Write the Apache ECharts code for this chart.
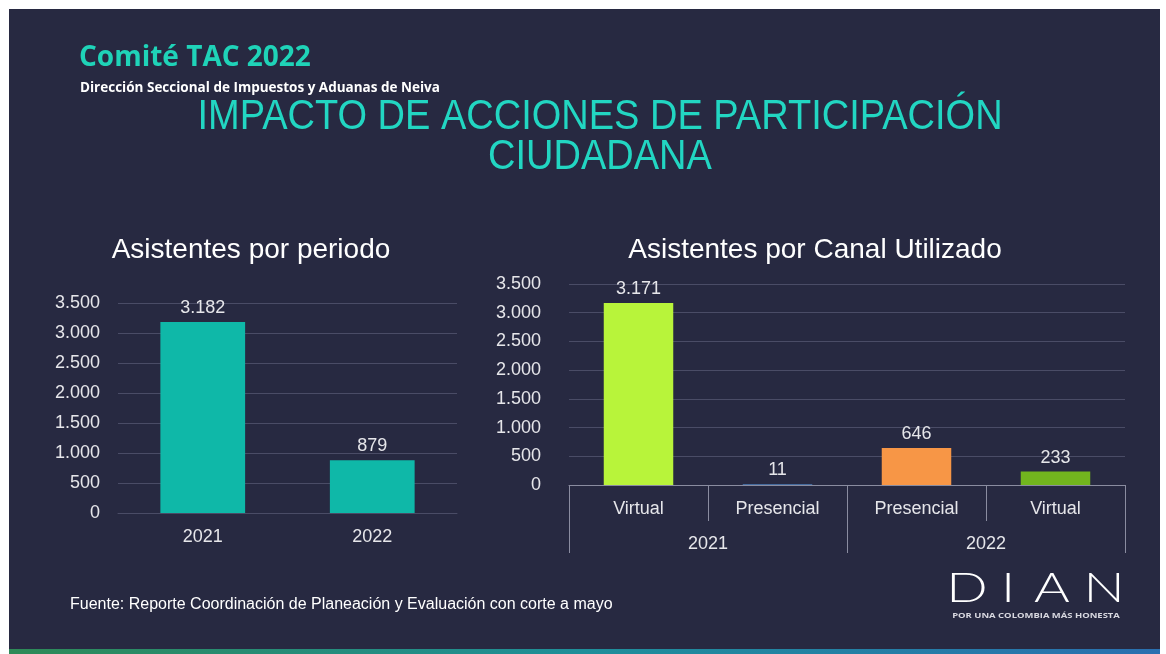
<!DOCTYPE html>
<html>
<head>
<meta charset="utf-8">
<script src="https://cdn.jsdelivr.net/npm/echarts@6/dist/echarts.min.js"></script>
<style>
  html, body { margin: 0; padding: 0; background: #ffffff; }
  #main { width: 1166px; height: 654px; }
</style>
</head>
<body>
<div id="main"></div>
<script>
// datos del gráfico
const periodCats = ['2021', '2022'];
const periodVals = [3182, 879];

const canalCats = ['Virtual', 'Presencial', 'Presencial', 'Virtual'];
const canalYears = ['2021', '2022'];
const canalVals = [3171, 11, 646, 233];
const canalColors = ['#b8f43a', '#4f81bd', '#f79646', '#72b51e'];

const yTicks = { min: 0, max: 3500, interval: 500 };

const textColor = '#e6e6ea';
const gridColor = '#4a4c66';
const font = '"Liberation Sans", Arial, sans-serif';

// 3182 -> 3.182
const fmt = v => String(v).replace(/\B(?=(\d{3})+(?!\d))/g, '.');

const myChart = echarts.init(document.getElementById('main'));

const valueAxis = (gridIndex, margin) => ({
  type: 'value',
  gridIndex: gridIndex,
  min: yTicks.min,
  max: yTicks.max,
  interval: yTicks.interval,
  axisLine: { show: false },
  axisTick: { show: false },
  axisLabel: { color: textColor, fontSize: 18, fontFamily: font, margin: margin, formatter: fmt },
  splitLine: { lineStyle: { color: gridColor, width: 1 } }
});

// letras del logo DIAN
const logoLetters = [
  { ch: 'D', x: 967 }, { ch: 'I', x: 1008 }, { ch: 'A', x: 1052 }, { ch: 'N', x: 1104 }
];

const option = {
  backgroundColor: '#ffffff',
  animation: false,
  graphic: [
    // fondo de la diapositiva
    { type: 'rect', shape: { x: 9, y: 9, width: 1151, height: 641 }, style: { fill: '#272941' }, z: -10 },
    {
      type: 'rect', shape: { x: 9, y: 649, width: 1151, height: 5 }, z: -9,
      style: {
        fill: new echarts.graphic.LinearGradient(0, 0, 1, 0, [
          { offset: 0, color: '#2e8a57' }, { offset: 0.5, color: '#1f8f9a' }, { offset: 1, color: '#2a6fb0' }
        ])
      }
    },
    { type: 'text', x: 79, y: 44, style: { text: 'Comité TAC 2022', fill: '#1fd3b8', font: 'bold 28px "Open Sans", sans-serif' } },
    { type: 'text', x: 80, y: 81, style: { text: 'Dirección Seccional de Impuestos y Aduanas de Neiva', fill: '#ffffff', font: 'bold 13.5px "Open Sans", sans-serif' } },
    { type: 'text', x: 600, y: 117, scaleY: 1.12, style: { text: 'IMPACTO DE ACCIONES DE PARTICIPACIÓN', fill: '#22d6c2', font: '38px ' + font, align: 'center', verticalAlign: 'middle' } },
    { type: 'text', x: 600, y: 157, scaleY: 1.12, style: { text: 'CIUDADANA', fill: '#22d6c2', font: '38px ' + font, align: 'center', verticalAlign: 'middle' } },
    { type: 'text', x: 251, y: 250, style: { text: 'Asistentes por periodo', fill: '#ffffff', font: '28px ' + font, align: 'center', verticalAlign: 'middle' } },
    { type: 'text', x: 815, y: 250, style: { text: 'Asistentes por Canal Utilizado', fill: '#ffffff', font: '28px ' + font, align: 'center', verticalAlign: 'middle' } },
    { type: 'text', x: 70, y: 605, style: { text: 'Fuente: Reporte Coordinación de Planeación y Evaluación con corte a mayo', fill: '#ffffff', font: '16px ' + font, verticalAlign: 'middle' } },
    // logo DIAN
    ...logoLetters.map(l => ({
      type: 'text', x: l.x, y: 588, scaleX: 1.3,
      style: { text: l.ch, fill: '#ffffff', font: '300 42px Lato, sans-serif', align: 'center', verticalAlign: 'middle' }
    })),
    { type: 'text', x: 1036, y: 616, scaleX: 1.35, style: { text: 'POR UNA COLOMBIA MÁS HONESTA', fill: '#d8d8e0', font: 'bold 7px "Open Sans", sans-serif', align: 'center', verticalAlign: 'middle' } }
  ],
  grid: [
    { left: 118, right: 709, top: 303, bottom: 141 },
    { left: 569, right: 41, top: 284, bottom: 169 }
  ],
  xAxis: [
    {
      type: 'category', gridIndex: 0, data: periodCats,
      axisLine: { lineStyle: { color: gridColor } },
      axisTick: { show: false },
      axisLabel: { color: textColor, fontSize: 18, fontFamily: font, margin: 15 }
    },
    {
      type: 'category', gridIndex: 1, data: canalCats,
      axisLine: { lineStyle: { color: '#8a8ca0' } },
      axisTick: { show: true, length: 36, interval: 0, lineStyle: { color: '#8a8ca0' } },
      axisLabel: { color: textColor, fontSize: 18, fontFamily: font, margin: 15, interval: 0 }
    },
    {
      type: 'category', gridIndex: 1, data: canalYears, position: 'bottom',
      axisLine: { show: false },
      axisTick: { show: true, length: 68, interval: 0, lineStyle: { color: '#8a8ca0' } },
      axisLabel: { color: textColor, fontSize: 18, fontFamily: font, margin: 50, interval: 0 }
    }
  ],
  yAxis: [valueAxis(0, 18), valueAxis(1, 28)],
  series: [
    {
      name: 'Asistentes por periodo', type: 'bar', xAxisIndex: 0, yAxisIndex: 0,
      data: periodVals, barWidth: '50%',
      itemStyle: { color: '#0fb8a8' },
      label: { show: true, position: 'top', color: textColor, fontSize: 18, fontFamily: font, formatter: p => fmt(p.value) }
    },
    {
      name: 'Asistentes por Canal Utilizado', type: 'bar', xAxisIndex: 1, yAxisIndex: 1,
      data: canalVals.map((v, i) => ({ value: v, itemStyle: { color: canalColors[i] } })),
      barWidth: '50%',
      label: { show: true, position: 'top', color: textColor, fontSize: 18, fontFamily: font, formatter: p => fmt(p.value) }
    }
  ]
};

myChart.setOption(option);
</script>
</body>
</html>
